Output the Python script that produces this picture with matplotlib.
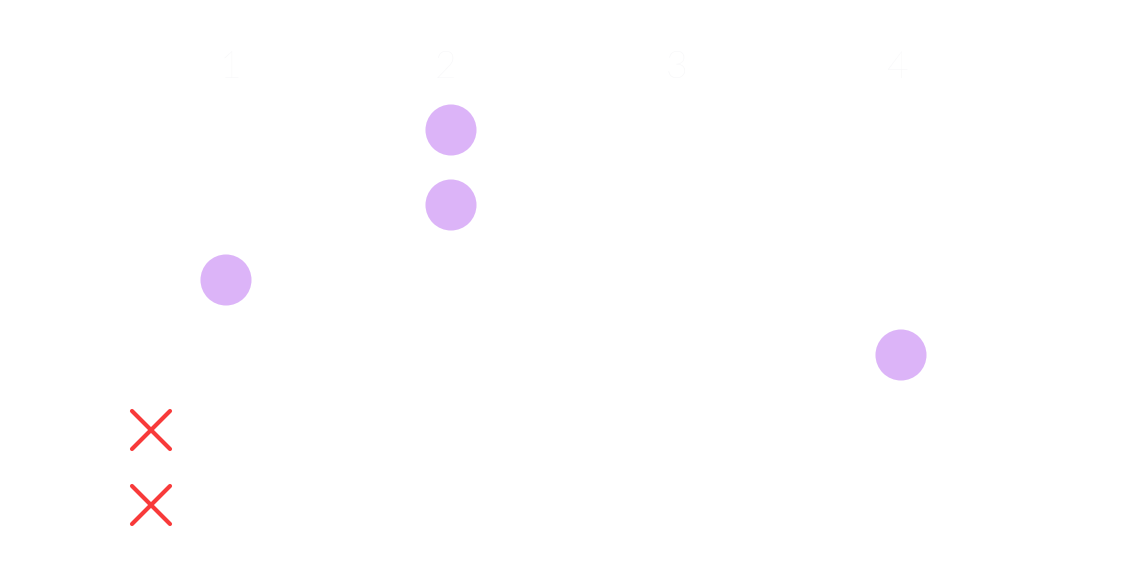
import matplotlib.pyplot as plt
from matplotlib.markers import MarkerStyle

# Column headers (positions)
header_x = [1.018, 1.973, 3.0, 3.987]
col_labels = ['1', '2', '3', '4']

# Filled circles: (column, row)
dot_cols = [1, 2, 2, 4]
dot_rows = [3, 1, 2, 4]

# Red crosses in the left margin column
cross_cols = [0.667, 0.667]
cross_rows = [5, 6]

fig = plt.figure(figsize=(11.25, 5.64), dpi=100)
ax = fig.add_axes([0, 0, 1, 1])

ax.scatter(dot_cols, dot_rows, s=1350, color='#dcb4f8', edgecolors='none', zorder=3)
ax.plot(cross_cols, cross_rows, linestyle='none',
        marker=MarkerStyle('x', capstyle='round'), markersize=27,
        markeredgewidth=3.0, color='#f83a3a', zorder=3)

for x, lab in zip(header_x, col_labels):
    ax.text(x, 0.17, lab, ha='center', va='center', fontsize=27,
            family=['Lato', 'DejaVu Sans'], fontweight='light', color='#f4f4f6')

ax.set_xlim(-0.0044, 4.9956)
ax.set_ylim(6.7867, -0.7333)
ax.axis('off')

fig.savefig('out.png', dpi=100, facecolor='white')
